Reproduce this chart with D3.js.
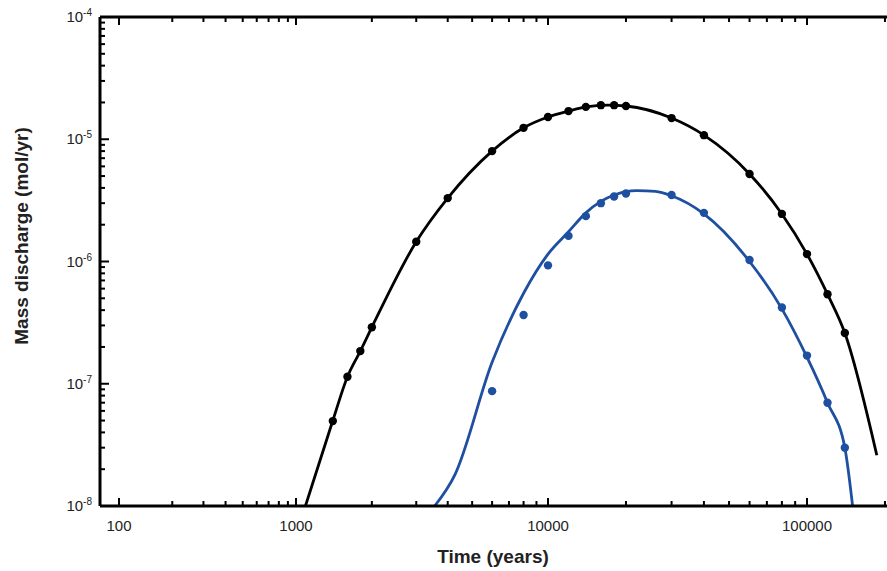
<!DOCTYPE html>
<html><head><meta charset="utf-8">
<script src="https://cdn.jsdelivr.net/npm/d3@7"></script>
<style>body{margin:0;background:#fff}text{font-family:"Liberation Sans",Arial,sans-serif}</style>
</head><body>
<script>
// measured points
var blackPts = [[1400,4.95e-8],[1600,1.14e-7],[1800,1.85e-7],[2000,2.9e-7],[3000,1.45e-6],[4000,3.3e-6],[6000,8e-6],[8000,1.24e-5],[10000,1.52e-5],[12000,1.7e-5],[14000,1.84e-5],[16000,1.9e-5],[18000,1.9e-5],[20000,1.87e-5],[30000,1.49e-5],[40000,1.08e-5],[60000,5.2e-6],[80000,2.45e-6],[100000,1.15e-6],[120000,5.4e-7],[140000,2.6e-7]];
var bluePts = [[6000,8.7e-8],[8000,3.65e-7],[10000,9.3e-7],[12000,1.62e-6],[14000,2.35e-6],[16000,3.0e-6],[18000,3.4e-6],[20000,3.6e-6],[30000,3.5e-6],[40000,2.5e-6],[60000,1.03e-6],[80000,4.2e-7],[100000,1.7e-7],[120000,7e-8],[140000,3e-8]];
// fitted curves
var blackLine = [[1090,1e-8],[1400,5e-8],[1600,1.14e-7],[1800,1.85e-7],[2000,2.9e-7],[3000,1.45e-6],[4000,3.3e-6],[6000,8e-6],[8000,1.24e-5],[10000,1.52e-5],[12000,1.7e-5],[14000,1.84e-5],[17000,1.9e-5],[20000,1.87e-5],[30000,1.49e-5],[40000,1.08e-5],[60000,5.2e-6],[80000,2.45e-6],[100000,1.15e-6],[120000,5.4e-7],[140000,2.6e-7],[186000,2.6e-8]];
var blueLine = [[3550,1e-8],[4270,1.8e-8],[6000,1.5e-7],[8000,5.5e-7],[10000,1.15e-6],[12000,1.75e-6],[14000,2.5e-6],[16000,3.1e-6],[18000,3.5e-6],[22000,3.8e-6],[26000,3.75e-6],[30000,3.45e-6],[40000,2.45e-6],[60000,1.0e-6],[80000,4.1e-7],[100000,1.65e-7],[120000,7e-8],[140000,3e-8],[150000,1e-8]];
var xTicks = [100,1000,10000,100000];
var yTicks = [-4,-5,-6,-7,-8];

var W = 887, H = 571;
var svg = d3.select("body").append("svg").attr("width",W).attr("height",H);

var x = d3.scaleLog().domain([100,1000,10000,100000]).range([119,296,548,807]);
var y = d3.scaleLog().domain([1e-8,1e-4]).range([506,17]);
var L = 100, T = 17, B = 506;

svg.append("clipPath").attr("id","c").append("rect")
	.attr("x",L).attr("y",T).attr("width",W-L).attr("height",B-T);

var g = svg.append("g").attr("clip-path","url(#c)");
var line = d3.line().x(function(d){return x(d[0]);}).y(function(d){return y(d[1]);}).curve(d3.curveMonotoneX);

g.append("path").attr("d",line(blackLine)).attr("fill","none").attr("stroke","#000").attr("stroke-width",2.8);
g.append("path").attr("d",line(blueLine)).attr("fill","none").attr("stroke","#1f4fa0").attr("stroke-width",2.8);

g.selectAll("circle.k").data(blackPts).enter().append("circle")
	.attr("cx",function(d){return x(d[0]);}).attr("cy",function(d){return y(d[1]);})
	.attr("r",4.2).attr("fill","#000");
g.selectAll("circle.b").data(bluePts).enter().append("circle")
	.attr("cx",function(d){return x(d[0]);}).attr("cy",function(d){return y(d[1]);})
	.attr("r",4.2).attr("fill","#1f4fa0");

// frame
svg.append("line").attr("x1",L).attr("x2",W).attr("y1",B).attr("y2",B).attr("stroke","#000").attr("stroke-width",3);
svg.append("line").attr("x1",L).attr("x2",W).attr("y1",T).attr("y2",T).attr("stroke","#000").attr("stroke-width",3);
svg.append("line").attr("x1",L).attr("x2",L).attr("y1",T).attr("y2",B).attr("stroke","#000").attr("stroke-width",3);

// x minor/major ticks
var xt = [];
[100,1000,10000,100000].forEach(function(d){ for(var k=1;k<10;k++){ var v=d*k; if(x(v)<W) xt.push(v);} });
svg.selectAll("line.xt").data(xt).enter().append("line")
	.attr("x1",function(d){return x(d);}).attr("x2",function(d){return x(d);})
	.attr("y1",B).attr("y2",function(d){return xTicks.indexOf(d)>=0?B-8:B-5;})
	.attr("stroke","#000").attr("stroke-width",2);
svg.selectAll("line.xt2").data(xt).enter().append("line")
	.attr("x1",function(d){return x(d);}).attr("x2",function(d){return x(d);})
	.attr("y1",T).attr("y2",function(d){return xTicks.indexOf(d)>=0?T+8:T+5;})
	.attr("stroke","#000").attr("stroke-width",2);
svg.selectAll("text.xl").data(xTicks).enter().append("text")
	.attr("x",function(d){return x(d);}).attr("y",531).attr("text-anchor","middle")
	.attr("font-size",15).attr("fill","#222").text(function(d){return d;});

// y ticks
var yt = [];
[-8,-7,-6,-5].forEach(function(e){ for(var k=1;k<10;k++) yt.push(k*Math.pow(10,e)); });
yt.push(1e-4);
svg.selectAll("line.yt").data(yt).enter().append("line")
	.attr("x1",L).attr("x2",function(d){var l=Math.log10(d);return Math.abs(l-Math.round(l))<1e-9?L+9:L+5;})
	.attr("y1",function(d){return y(d);}).attr("y2",function(d){return y(d);})
	.attr("stroke","#000").attr("stroke-width",2);
var yl = svg.selectAll("text.yl").data(yTicks).enter().append("text")
	.attr("x",92).attr("y",function(d){return y(Math.pow(10,d))+5;}).attr("text-anchor","end")
	.attr("font-size",15).attr("fill","#222");
yl.append("tspan").text("10");
yl.append("tspan").attr("dy",-6).attr("font-size",10).text(function(d){return d;});

svg.append("text").attr("x",493).attr("y",563).attr("text-anchor","middle")
	.attr("font-size",19).attr("font-weight","bold").attr("fill","#222").text("Time (years)");
svg.append("text").attr("transform","translate(28,236) rotate(-90)").attr("text-anchor","middle")
	.attr("font-size",19).attr("font-weight","bold").attr("fill","#222").text("Mass discharge (mol/yr)");
</script>
</body></html>
